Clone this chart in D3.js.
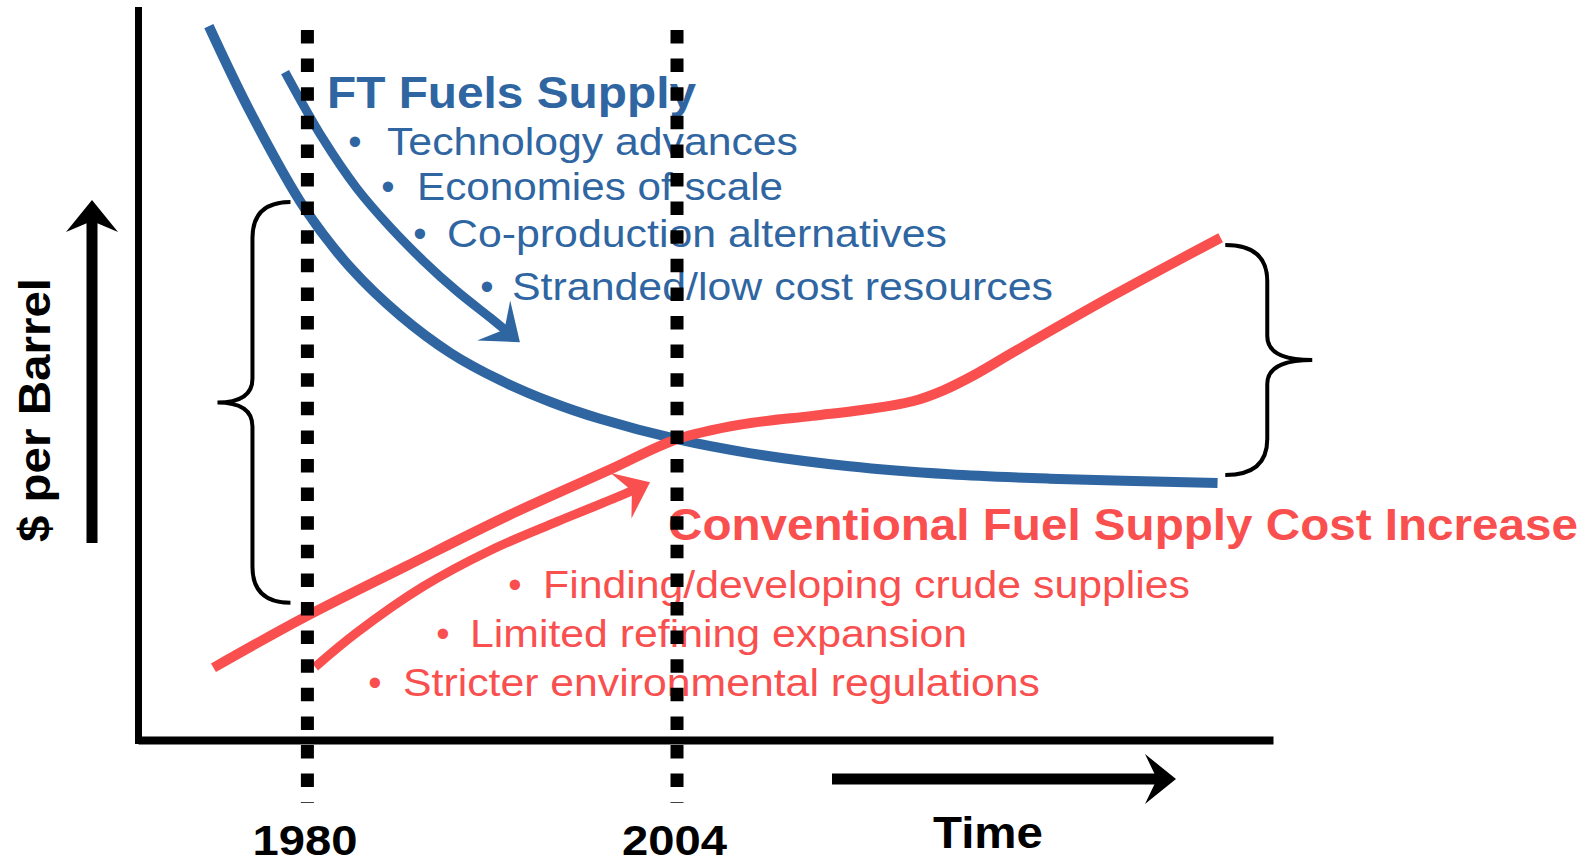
<!DOCTYPE html>
<html>
<head>
<meta charset="utf-8">
<script src="https://cdn.jsdelivr.net/npm/d3@7"></script>
<style>
  body { margin: 0; background: #fff; }
  svg { display: block; font-family: "Liberation Sans", Arial, sans-serif; }
</style>
</head>
<body>
<div id="chart"></div>
<script>
// cost in arbitrary "$ per barrel" units (0-100), x in years
const ftYears   = [1973.6, 1976.3, 1979.8, 1982.8, 1986.0, 1989.3, 1992.5, 1995.8, 1999.0, 2004.0, 2008.7, 2015.2, 2021.7, 2028.2, 2039.1];
const ftCost    = [97.8, 86.0, 72.9, 64.7, 58.2, 53.0, 49.3, 46.3, 44.0, 41.2, 39.3, 37.5, 36.4, 35.8, 35.2];
const convYears = [1973.9, 1979.8, 1986.4, 1993.0, 1999.6, 2004.0, 2008.1, 2012.8, 2016.0, 2019.3, 2021.3, 2023.3, 2025.9, 2032.5, 2039.3];
const convCost  = [9.9, 16.8, 23.8, 30.7, 37.0, 41.2, 43.2, 44.4, 45.2, 46.4, 47.9, 50.0, 53.2, 61.1, 68.8];

// trend arrows next to the curves
const ftArrowYears   = [1978.55, 1981.0, 1983.2, 1985.4, 1987.5, 1989.7, 1991.9, 1993.8];
const ftArrowCost    = [91.5, 82.4, 75.6, 70.2, 65.7, 61.5, 57.8, 54.5];
const convArrowYears = [1980.5, 1983.2, 1987.5, 1991.9, 1996.2, 2000.5, 2002.25];
const convArrowCost  = [10.0, 14.7, 21.0, 26.0, 29.9, 33.6, 35.3];

// milestone years (dotted lines + tick labels)
const markerYears = [1980, 2004];

// braces: year of the tips, top and bottom cost
const braceYears  = [1978.9, 2039.6];
const braceTop    = [73.7, 67.8];
const braceBottom = [18.8, 36.3];

// annotation texts
const ftTitle   = "FT Fuels Supply";
const ftBullets = ["Technology advances", "Economies of scale", "Co-production alternatives", "Stranded/low cost resources"];
const convTitle   = "Conventional Fuel Supply Cost Increase";
const convBullets = ["Finding/developing crude supplies", "Limited refining expansion", "Stricter environmental regulations"];
const xTitle = "Time";
const yTitle = "$ per Barrel";

const BLUE = "#2f66a2", RED = "#f94f4f";
const width = 1591, height = 864;

const svg = d3.select("#chart").append("svg")
    .attr("width", width)
    .attr("height", height);

svg.append("rect").attr("width", width).attr("height", height).attr("fill", "#fff");

// scales
const x = d3.scaleLinear().domain([1969, 2042.7]).range([138, 1273]);
const y = d3.scaleLinear().domain([0, 100]).range([740, 10]);

const line = d3.line().curve(d3.curveCatmullRom);
const toPts = (xs, ys) => xs.map((d, i) => [x(d), y(ys[i])]);

// braces
const braceShape = [{spine: -38, cusp: -73}, {spine: 42, cusp: 87}];
braceYears.forEach((yr, i) => {
    const tx = x(yr), y0 = y(braceTop[i]), y1 = y(braceBottom[i]);
    const sx = tx + braceShape[i].spine, cx = tx + braceShape[i].cusp;
    const ym = (y0 + y1) / 2, r = 36, rc = 24;
    const d = `M${tx},${y0} Q${sx},${y0} ${sx},${y0 + r} L${sx},${ym - rc} Q${sx},${ym} ${cx},${ym}` +
              ` Q${sx},${ym} ${sx},${ym + rc} L${sx},${y1 - r} Q${sx},${y1} ${tx},${y1}`;
    svg.append("path").attr("d", d).attr("fill", "none").attr("stroke", "#000").attr("stroke-width", 4);
});

// axes
const xAxis = svg.append("g")
    .attr("transform", `translate(0,${y(0)})`)
    .call(d3.axisBottom(x).tickValues(markerYears).tickFormat(d3.format("d")).tickSize(0).tickSizeOuter(0));
xAxis.select(".domain").attr("stroke", "#000").attr("stroke-width", 8);
xAxis.selectAll(".tick text")
    .attr("y", 115).attr("dy", null)
    .attr("x", -3)
    .attr("fill", "#000")
    .attr("font-family", "Liberation Sans, Arial, sans-serif")
    .attr("font-size", 42).attr("font-weight", "bold")
    .attr("textLength", 105).attr("lengthAdjust", "spacingAndGlyphs");

const yAxis = svg.append("g")
    .attr("transform", `translate(${x(1969)},0)`)
    .call(d3.axisLeft(y).tickValues([]).tickSizeOuter(0));
yAxis.select(".domain").attr("stroke", "#000").attr("stroke-width", 7).attr("stroke-linecap", "square");

// main curves
svg.append("path").attr("d", line(toPts(ftYears, ftCost)))
    .attr("fill", "none").attr("stroke", BLUE).attr("stroke-width", 10);
svg.append("path").attr("d", line(toPts(convYears, convCost)))
    .attr("fill", "none").attr("stroke", RED).attr("stroke-width", 10);

// arrow helper: shaft through points, notched head at last point
function drawArrow(pts, color, w, head, curved) {
    const n = pts.length, tip = pts[n - 1], prev = pts[n - 2];
    const dx = tip[0] - prev[0], dy = tip[1] - prev[1], L = Math.hypot(dx, dy);
    const ux = dx / L, uy = dy / L, px = -uy, py = ux;
    const end = [tip[0] - ux * (head.notch - 3), tip[1] - uy * (head.notch - 3)];
    const shaft = pts.slice(0, n - 1).concat([end]);
    svg.append("path")
        .attr("d", (curved ? line : d3.line())(shaft))
        .attr("fill", "none").attr("stroke", color).attr("stroke-width", w);
    const bx = tip[0] - ux * head.len, by = tip[1] - uy * head.len;
    const hp = [tip, [bx + px * head.half, by + py * head.half],
                [tip[0] - ux * head.notch, tip[1] - uy * head.notch],
                [bx - px * head.half, by - py * head.half]];
    svg.append("path").attr("d", "M" + hp.join("L") + "Z").attr("fill", color);
}

drawArrow(toPts(ftArrowYears, ftArrowCost), BLUE, 9, {len: 34, half: 26, notch: 20}, true);
drawArrow(toPts(convArrowYears, convArrowCost), RED, 9, {len: 32, half: 25, notch: 20}, true);

// axis direction arrows
drawArrow([[92, 543], [92, 200]], "#000", 11, {len: 32, half: 26, notch: 21}, false);
drawArrow([[832, 779], [1176, 779]], "#000", 11, {len: 31, half: 25, notch: 19}, false);

// text helper
function addText(txt, tx, ty, size, bold, color, len) {
    return svg.append("text")
        .attr("x", tx).attr("y", ty)
        .attr("font-size", size)
        .attr("font-weight", bold ? "bold" : "normal")
        .attr("fill", color)
        .attr("textLength", len).attr("lengthAdjust", "spacingAndGlyphs")
        .text(txt);
}

// FT annotation
addText(ftTitle, 327, 108, 45, true, BLUE, 369);
const ftLayout = {bx: [355, 388, 420, 487], tx: [387, 417, 447, 512], ty: [155, 200, 247, 300], len: [411, 366, 500, 541]};
ftBullets.forEach((t, i) => {
    svg.append("text").attr("x", ftLayout.bx[i]).attr("y", ftLayout.ty[i])
        .attr("text-anchor", "middle").attr("font-size", 38).attr("fill", BLUE).text("\u2022");
    addText(t, ftLayout.tx[i], ftLayout.ty[i], 38, false, BLUE, ftLayout.len[i]);
});

// conventional annotation
addText(convTitle, 668, 540, 45, true, RED, 910);
const convLayout = {bx: [515, 443, 375], tx: [543, 470, 403], ty: [598, 647, 696], len: [647, 497, 637]};
convBullets.forEach((t, i) => {
    svg.append("text").attr("x", convLayout.bx[i]).attr("y", convLayout.ty[i])
        .attr("text-anchor", "middle").attr("font-size", 38).attr("fill", RED).text("\u2022");
    addText(t, convLayout.tx[i], convLayout.ty[i], 38, false, RED, convLayout.len[i]);
});

// axis titles
addText(xTitle, 933, 848, 44, true, "#000", 110);
svg.append("text")
    .attr("transform", "translate(50,410) rotate(-90)")
    .attr("text-anchor", "middle")
    .attr("font-size", 44).attr("font-weight", "bold").attr("fill", "#000")
    .attr("textLength", 264).attr("lengthAdjust", "spacingAndGlyphs")
    .text(yTitle);

// dotted milestone lines on top
svg.selectAll(".marker")
    .data(markerYears)
    .enter()
    .append("line")
    .attr("class", "marker")
    .attr("x1", d => x(d)).attr("x2", d => x(d))
    .attr("y1", 30).attr("y2", 803)
    .attr("stroke", "#000").attr("stroke-width", 13)
    .attr("stroke-dasharray", "13.5 15.1");
</script>
</body>
</html>
